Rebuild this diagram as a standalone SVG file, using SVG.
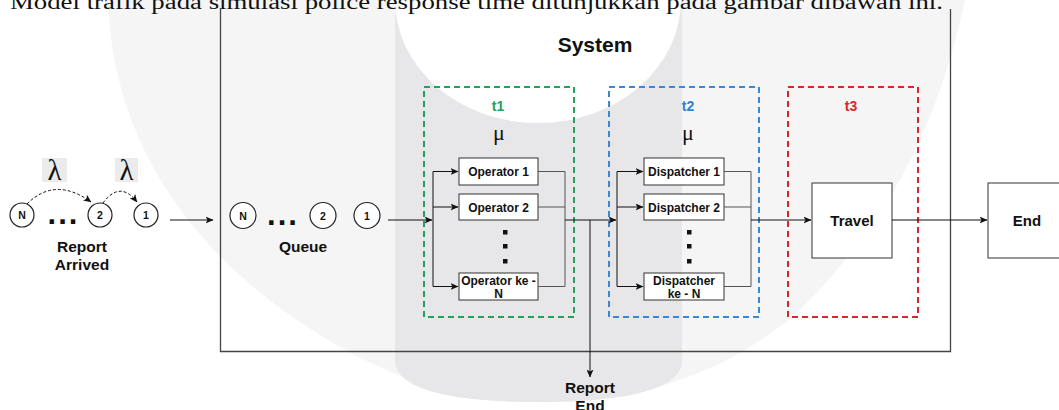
<svg xmlns="http://www.w3.org/2000/svg" width="1059" height="410" viewBox="0 0 1059 410">
<defs>
<style>
.lbl{font-family:"Liberation Sans",Arial,sans-serif;font-weight:bold;fill:#111;text-anchor:middle}
.box{fill:#fff;stroke:#333;stroke-width:1}
.circ{fill:#fff;stroke:#222;stroke-width:1.2}
.cn{font-family:"Liberation Sans",Arial,sans-serif;font-weight:bold;font-size:10.5px;fill:#111;text-anchor:middle}
.ln{fill:none;stroke:#111;stroke-width:1}
.gl{fill:none;stroke:#555;stroke-width:1}
.dash{fill:none;stroke-width:2;stroke-dasharray:6 4}
.serif{font-family:"Liberation Serif","Times New Roman",serif}
.mu{font-family:"Liberation Serif","Times New Roman",serif;font-size:22px;fill:#111;text-anchor:middle}
.lam{font-family:"Liberation Serif","Times New Roman",serif;font-size:29px;fill:#111;text-anchor:middle}
.dot{fill:#111}
</style>
<marker id="ah" viewBox="0 0 8 7" refX="7.5" refY="3.5" markerWidth="8" markerHeight="7" markerUnits="userSpaceOnUse" orient="auto">
<path d="M0,0 L8,3.5 L0,7 L2,3.5 Z" fill="#111"/>
</marker>
</defs>
<rect width="1059" height="410" fill="#fff"/>
<g id="watermark">
<path d="M108,0 C112,140 190,255 320,335 C410,392 490,404 560,402 C670,398 750,355 800,310 C880,230 935,140 965,0 Z" fill="#f5f5f6"/>
<path d="M395,0 V362 C398,392 460,402 538,402 C616,402 680,392 682,362 V0 Z" fill="#e7e7e9"/>
<ellipse cx="538" cy="0" rx="143" ry="123" fill="#fff"/>
</g>
<text class="serif" x="10" y="9" font-size="21.3" fill="#111" textLength="933" lengthAdjust="spacingAndGlyphs">Model trafik pada simulasi police response time ditunjukkan pada gambar dibawah ini.</text>
<g id="system">
<path d="M220.5,9 V351.5 H950.5 V9" fill="none" stroke="#444" stroke-width="1.3"/>
<text class="lbl" x="595" y="52" font-size="21">System</text>
</g>
<g id="t1">
<rect class="dash" x="424" y="87" width="150" height="230" stroke="#22a35a"/>
<text class="lbl" x="498" y="111" font-size="14" style="fill:#22a35a">t1</text>
<text class="mu" x="499" y="140">μ</text>
</g>
<g id="t2">
<rect class="dash" x="609" y="87" width="150" height="230" stroke="#3a86d8"/>
<text class="lbl" x="688" y="111" font-size="14" style="fill:#2f7fd6">t2</text>
<text class="mu" x="688" y="140">μ</text>
</g>
<g id="t3">
<rect class="dash" x="788" y="87" width="130" height="230" stroke="#d9262b"/>
<text class="lbl" x="851" y="111" font-size="14" style="fill:#d9262b">t3</text>
</g>
<g id="report-arrived">
<rect x="42" y="158" width="25" height="24" fill="#ebebeb"/>
<rect x="115" y="158" width="23" height="24" fill="#ebebeb"/>
<text class="lam" x="54.5" y="180">λ</text>
<text class="lam" x="126.5" y="180">λ</text>
<circle class="circ" cx="22" cy="215" r="12"/>
<text class="cn" x="22" y="219">N</text>
<text class="lbl" x="63.5" y="223.5" font-size="31" letter-spacing="2">...</text>
<circle class="circ" cx="100" cy="215" r="12"/>
<text class="cn" x="100" y="219">2</text>
<circle class="circ" cx="146" cy="215" r="12"/>
<text class="cn" x="146" y="219">1</text>
<text class="lbl" x="82" y="252" font-size="15.5">Report</text>
<text class="lbl" x="82" y="270" font-size="15.5">Arrived</text>
</g>
<g id="queue">
<circle class="circ" cx="243" cy="215.5" r="13"/>
<text class="cn" x="243" y="219.5">N</text>
<text class="lbl" x="283" y="224.5" font-size="31" letter-spacing="2">...</text>
<circle class="circ" cx="323" cy="215.5" r="13"/>
<text class="cn" x="323" y="219.5">2</text>
<circle class="circ" cx="367" cy="215.5" r="13"/>
<text class="cn" x="367" y="219.5">1</text>
<text class="lbl" x="303" y="252" font-size="15.5">Queue</text>
</g>
<g id="operator-1">
<rect class="box" x="459" y="158" width="79" height="27"/>
<text class="lbl" x="498.5" y="176" font-size="12">Operator 1</text>
</g>
<g id="operator-2">
<rect class="box" x="459" y="194" width="79" height="26"/>
<text class="lbl" x="498.5" y="211.5" font-size="12">Operator 2</text>
</g>
<g id="operator-n">
<rect class="box" x="459" y="273" width="79" height="27"/>
<text class="lbl" x="498.5" y="285" font-size="12">Operator ke -</text>
<text class="lbl" x="498.5" y="297.5" font-size="12">N</text>
</g>
<g id="operator-dots">
<rect class="dot" x="503" y="230" width="4.5" height="4.5"/>
<rect class="dot" x="503" y="244" width="4.5" height="4.5"/>
<rect class="dot" x="503" y="259" width="4.5" height="4.5"/>
</g>
<g id="dispatcher-1">
<rect class="box" x="644" y="158" width="80" height="27"/>
<text class="lbl" x="684" y="176" font-size="12">Dispatcher 1</text>
</g>
<g id="dispatcher-2">
<rect class="box" x="644" y="194" width="80" height="26"/>
<text class="lbl" x="684" y="211.5" font-size="12">Dispatcher 2</text>
</g>
<g id="dispatcher-n">
<rect class="box" x="644" y="273" width="80" height="27"/>
<text class="lbl" x="684" y="284.5" font-size="12">Dispatcher</text>
<text class="lbl" x="684" y="297.5" font-size="12">ke - N</text>
</g>
<g id="dispatcher-dots">
<rect class="dot" x="687" y="230" width="4.5" height="4.5"/>
<rect class="dot" x="687" y="244" width="4.5" height="4.5"/>
<rect class="dot" x="687" y="259" width="4.5" height="4.5"/>
</g>
<g id="travel">
<rect class="box" x="812" y="183" width="80" height="75"/>
<text class="lbl" x="852" y="225.5" font-size="15">Travel</text>
</g>
<g id="end">
<rect class="box" x="988" y="183" width="80" height="75"/>
<text class="lbl" x="1027" y="225.5" font-size="15">End</text>
</g>
<g id="report-end">
<text class="lbl" x="590" y="393" font-size="15.5">Report</text>
<text class="lbl" x="590" y="411" font-size="15.5">End</text>
</g>
<g id="connectors">
<path class="ln" d="M27,204 Q55,176 91,202" stroke-dasharray="3 2" marker-end="url(#ah)"/>
<path class="ln" d="M103,203 Q120,180 137,202" stroke-dasharray="3 2" marker-end="url(#ah)"/>
<path class="ln" d="M170,220 H213" marker-end="url(#ah)"/>
<path class="ln" d="M388,220 H432" marker-end="url(#ah)"/>
<path class="ln" d="M433,171.5 V286.5"/>
<path class="ln" d="M433,171.5 H458" marker-end="url(#ah)"/>
<path class="ln" d="M433,207 H458" marker-end="url(#ah)"/>
<path class="ln" d="M433,286.5 H458" marker-end="url(#ah)"/>
<path class="gl" d="M538,171.5 H565 V286.5 H538 M538,207 H565"/>
<path class="ln" d="M565,220 H616" marker-end="url(#ah)"/>
<path class="ln" d="M590,220 V377" marker-end="url(#ah)"/>
<path class="ln" d="M617,171.5 V286.5"/>
<path class="ln" d="M617,171.5 H643" marker-end="url(#ah)"/>
<path class="ln" d="M617,207 H643" marker-end="url(#ah)"/>
<path class="ln" d="M617,286.5 H643" marker-end="url(#ah)"/>
<path class="gl" d="M724,171.5 H751 V286.5 H724 M724,207 H751"/>
<path class="ln" d="M751,220 H811" marker-end="url(#ah)"/>
<path class="ln" d="M892,220 H987" marker-end="url(#ah)"/>
</g>
</svg>
